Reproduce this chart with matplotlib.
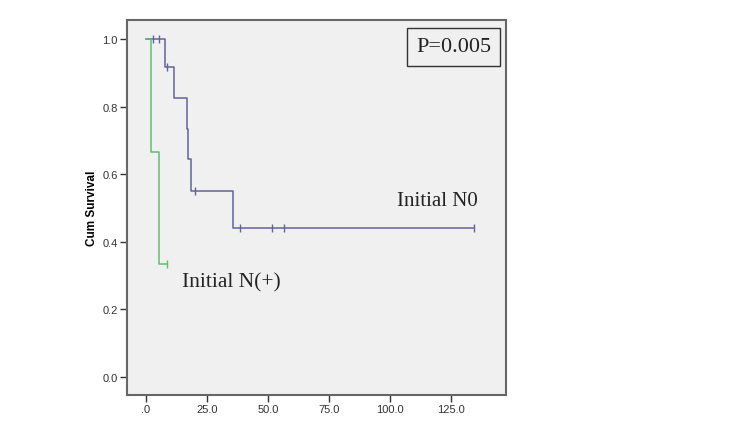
import matplotlib
matplotlib.use("Agg")
import matplotlib.pyplot as plt

# Initial N0 group (step times and survival after each step)
n0_times = [0, 7.9, 11.6, 16.7, 17.4, 18.5, 35.6, 134.3]
n0_surv = [1.0, 0.917, 0.826, 0.735, 0.645, 0.551, 0.440, 0.440]
n0_cens_t = [3.0, 5.5, 8.5, 20.1, 38.6, 51.8, 56.8, 134.3]
n0_cens_s = [1.0, 1.0, 0.917, 0.551, 0.440, 0.440, 0.440, 0.440]

# Initial N(+) group
np_times = [0, 2.2, 5.3, 8.5]
np_surv = [1.0, 0.667, 0.333, 0.333]
np_cens_t = [8.5]
np_cens_s = [0.333]

yticks = [0.0, 0.2, 0.4, 0.6, 0.8, 1.0]
ytick_labels = ["0.0", "0.2", "0.4", "0.6", "0.8", "1.0"]
xticks = [0, 25, 50, 75, 100, 125]
xtick_labels = [".0", "25.0", "50.0", "75.0", "100.0", "125.0"]

blue = "#62639b"
green = "#5fbf6f"

fig = plt.figure(figsize=(7.5, 4.31), dpi=100)
ax = fig.add_axes([0.169, 0.081, 0.506, 0.870])
ax.set_facecolor("#f0f0f0")

ax.step(n0_times, n0_surv, where="post", color=blue, lw=1.1)
ax.plot(n0_cens_t, n0_cens_s, ls="none", marker="|", ms=6, mew=1.0, color=blue)
ax.step(np_times, np_surv, where="post", color=green, lw=1.1)
ax.plot(np_cens_t, np_cens_s, ls="none", marker="|", ms=6, mew=1.0, color=green)

ax.set_xlim(-7.8, 147.7)
ax.set_ylim(-0.054, 1.056)
ax.set_yticks(yticks)
ax.set_yticklabels(ytick_labels, family="Liberation Sans")
ax.set_xticks(xticks)
ax.set_xticklabels(xtick_labels, family="Liberation Sans")
ax.tick_params(direction="out", length=5, width=1, colors="#333333", labelsize=8, pad=1.5)
for s in ax.spines.values():
    s.set_color("#666666")
    s.set_linewidth(1.5)

ax.set_ylabel("Cum Survival", fontsize=8.5, fontweight="bold", family="Liberation Sans", labelpad=3)

ax.text(119.5, 0.522, "Initial N0", fontsize=15, family="Liberation Serif", color="#222222", ha="center", va="center")
ax.text(15, 0.28, "Initial N(+)", fontsize=15.5, family="Liberation Serif", color="#222222", ha="left", va="center")
ax.text(0.861, 0.929, "P=0.005", transform=ax.transAxes, fontsize=16, family="Liberation Serif",
        color="#222222", ha="center", va="center",
        bbox=dict(boxstyle="square,pad=0.42", fc="#f0f0f0", ec="#333333", lw=1.0))

fig.savefig("out.png", dpi=100, facecolor="white")
